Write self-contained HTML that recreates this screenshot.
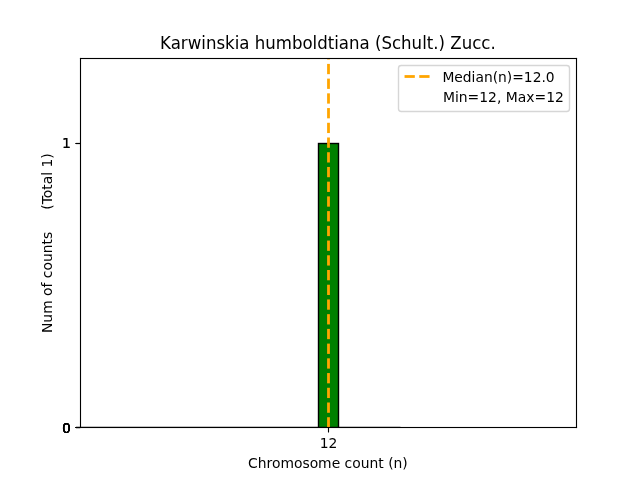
<!DOCTYPE html>
<html lang="en">
<head>
<meta charset="utf-8">
<title>Karwinskia humboldtiana (Schult.) Zucc.</title>
<style>
  html, body { margin: 0; padding: 0; background: #ffffff; }
  body { width: 640px; height: 480px; overflow: hidden; }
  svg { display: block; }
  text { font-family: "DejaVu Sans", "Liberation Sans", sans-serif; fill: #000000; white-space: pre; }
  .t10 { font-size: 13.889px; }
  .t12 { font-size: 17.8px; }
</style>
</head>
<body>
<svg width="640" height="480" viewBox="0 0 640 480">
  <defs>
    <clipPath id="axclip"><rect x="80" y="57.6" width="496" height="369.6"/></clipPath>
  </defs>
  <!-- figure + axes background -->
  <rect x="0" y="0" width="640" height="480" fill="#ffffff"/>

  <!-- histogram bars -->
  <g clip-path="url(#axclip)" stroke="#000000" stroke-width="1.389" fill="#008000" stroke-linejoin="miter">
    <!-- zero-height bins (only their edge lines are visible) -->
    <rect x="80" y="426.806" width="320.5" height="0.394" stroke="none" fill="#000000"/>
    <!-- the single populated bin -->
    <rect x="318.5" y="143.5" width="20" height="284"/>
  </g>

  <!-- median line (dashed, orange) -->
  <g fill="#ffa500">
    <rect x="327.111" y="417.222" width="2.778" height="10.278"/>
    <rect x="327.111" y="402.500" width="2.778" height="10.278"/>
    <rect x="327.111" y="387.778" width="2.778" height="10.278"/>
    <rect x="327.111" y="373.056" width="2.778" height="10.278"/>
    <rect x="327.111" y="358.334" width="2.778" height="10.278"/>
    <rect x="327.111" y="343.612" width="2.778" height="10.278"/>
    <rect x="327.111" y="328.890" width="2.778" height="10.278"/>
    <rect x="327.111" y="314.168" width="2.778" height="10.278"/>
    <rect x="327.111" y="299.446" width="2.778" height="10.278"/>
    <rect x="327.111" y="284.724" width="2.778" height="10.278"/>
    <rect x="327.111" y="270.002" width="2.778" height="10.278"/>
    <rect x="327.111" y="255.280" width="2.778" height="10.278"/>
    <rect x="327.111" y="240.558" width="2.778" height="10.278"/>
    <rect x="327.111" y="225.836" width="2.778" height="10.278"/>
    <rect x="327.111" y="211.114" width="2.778" height="10.278"/>
    <rect x="327.111" y="196.392" width="2.778" height="10.278"/>
    <rect x="327.111" y="181.670" width="2.778" height="10.278"/>
    <rect x="327.111" y="166.948" width="2.778" height="10.278"/>
    <rect x="327.111" y="152.226" width="2.778" height="10.278"/>
    <rect x="327.111" y="137.504" width="2.778" height="10.278"/>
    <rect x="327.111" y="122.782" width="2.778" height="10.278"/>
    <rect x="327.111" y="108.060" width="2.778" height="10.278"/>
    <rect x="327.111" y="93.338" width="2.778" height="10.278"/>
    <rect x="327.111" y="78.616" width="2.778" height="10.278"/>
    <rect x="327.111" y="63.894" width="2.778" height="10.278"/>
    <rect x="327.111" y="58.000" width="2.778" height="1.444"/>
  </g>

  <!-- ticks (y ticks at 0, 0.2 ... 1.2 were truncated to ints, so they overlap) -->
  <g stroke="#000000" stroke-width="1.111" fill="none">
    <path d="M328.5 427.5V432.5"/>
    <path d="M80.5 427.5H75.5"/>
    <path d="M80.5 427.5H75.5"/>
    <path d="M80.5 427.5H75.5"/>
    <path d="M80.5 427.5H75.5"/>
    <path d="M80.5 427.5H75.5"/>
    <path d="M80.5 143.5H75.5"/>
    <path d="M80.5 143.5H75.5"/>
  </g>

  <!-- spines -->
  <g fill="#000000">
    <rect x="79.944" y="57.944" width="1.111" height="370.111"/>
    <rect x="575.944" y="57.944" width="1.111" height="370.111"/>
    <rect x="79.944" y="426.944" width="497.111" height="1.111"/>
    <rect x="79.944" y="57.944" width="497.111" height="1.111"/>
  </g>

  <!-- tick labels -->
  <text class="t10" x="328.5" y="447.5" text-anchor="middle">12</text>
  <text class="t10" x="70.8" y="432.5" text-anchor="end">0</text>
  <text class="t10" x="70.8" y="432.5" text-anchor="end">0</text>
  <text class="t10" x="70.8" y="432.5" text-anchor="end">0</text>
  <text class="t10" x="70.8" y="432.5" text-anchor="end">0</text>
  <text class="t10" x="70.8" y="432.5" text-anchor="end">0</text>
  <text class="t10" x="70.8" y="148" text-anchor="end">1</text>
  <text class="t10" x="70.8" y="148" text-anchor="end">1</text>

  <!-- axis labels -->
  <text class="t10" x="327.9" y="467.5" text-anchor="middle">Chromosome count (n)</text>
  <text class="t10" text-anchor="middle" transform="translate(52 243.15) rotate(-90)">Num of counts     (Total 1)</text>

  <!-- title -->
  <text class="t12" text-anchor="middle" transform="translate(327.9 49) scale(0.9326 1)">Karwinskia humboldtiana (Schult.) Zucc.</text>

  <!-- legend -->
  <rect x="398.5" y="65.5" width="171" height="46" rx="2.8" ry="2.8" fill="#ffffff" fill-opacity="0.8" stroke="#cccccc" stroke-opacity="0.8" stroke-width="1.389"/>
  <g fill="#ffa500">
    <rect x="404.55" y="75.111" width="10.278" height="2.778"/>
    <rect x="419.272" y="75.111" width="10.278" height="2.778"/>
  </g>
  <text class="t10" transform="translate(442.4 81.65) scale(0.996 1)">Median(n)=12.0</text>
  <text class="t10" transform="translate(442.95 101.54) scale(1.002 1)">Min=12, Max=12</text>
</svg>
</body>
</html>
